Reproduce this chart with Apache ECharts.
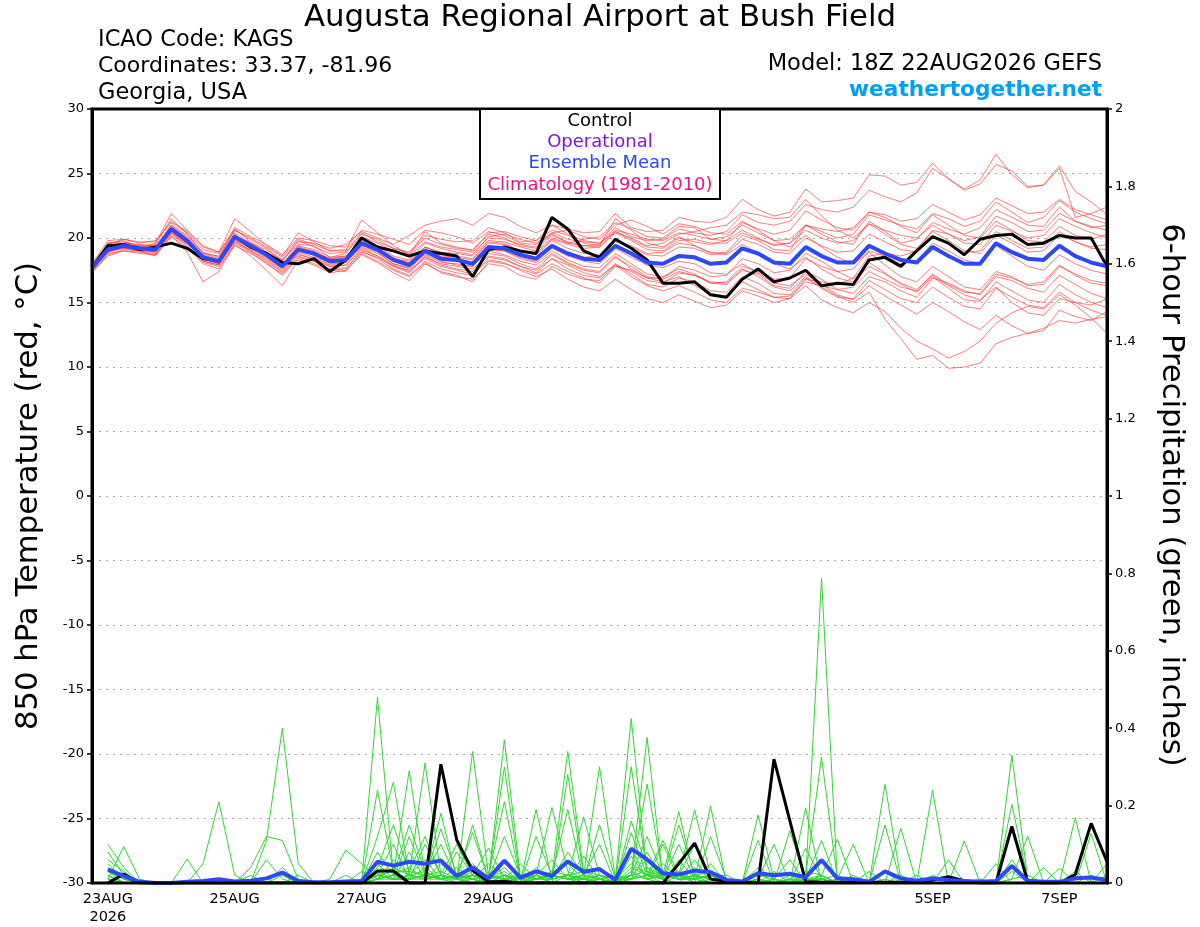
<!DOCTYPE html>
<html>
<head>
<meta charset="utf-8">
<script src="https://cdn.jsdelivr.net/npm/echarts@6/dist/echarts.min.js"></script>
<style>
html,body{margin:0;padding:0;background:#fff;}
#chart{width:1200px;height:927px;}
</style>
</head>
<body>
<div id="chart"></div>
<script>
// ---------------- DATA ----------------
// valid times: 22AUG 18Z then 23AUG..07SEP every 6 hours
const firstTime = '22AUG 18Z';
const days = ['23AUG','24AUG','25AUG','26AUG','27AUG','28AUG','29AUG','30AUG','31AUG','01SEP','02SEP','03SEP','04SEP','05SEP','06SEP','07SEP'];
const hours = ['00Z','06Z','12Z','18Z'];
const tickIndices = [1, 9, 17, 25, 37, 45, 53, 61];
const tickLabels = ['23AUG\n2026','25AUG','27AUG','29AUG','1SEP','3SEP','5SEP','7SEP'];

// 850 hPa temperature (C)
const controlTemp = [17.7,19.4,19.5,19.1,19.3,19.6,19.2,18.4, 18.2,20.1,19.3,18.8,18.1,18.0,18.4,17.4, 18.3,20.0,19.3,19.0,18.6,19.0,18.8,18.6, 17.0,19.1,19.3,19.0,18.8,21.6,20.7,19.0, 18.5,19.9,19.2,18.3,16.5,16.5,16.6,15.6, 15.4,16.8,17.6,16.6,16.9,17.5,16.3,16.5, 16.4,18.3,18.5,17.8,19.0,20.1,19.6,18.7, 19.9,20.2,20.3,19.5,19.6,20.2,20.0,20.0, 17.8];
const meanTemp = [17.7,19.1,19.4,19.2,19.1,20.7,19.8,18.5, 18.2,20.1,19.4,18.7,17.8,19.1,18.8,18.2, 18.3,19.6,19.1,18.3,17.9,19.0,18.4,18.3, 18.0,19.3,19.2,18.7,18.4,19.4,18.8,18.4, 18.3,19.4,18.8,18.1,18.0,18.6,18.5,18.0, 18.1,19.2,18.8,18.1,18.0,19.3,18.6,18.1, 18.1,19.4,18.8,18.3,18.1,19.3,18.6,18.0, 18.0,19.6,18.9,18.4,18.3,19.4,18.6,18.1, 17.8];

const tempMember01 = [17.9,19.6,19.7,19.4,19.5,21.5,20.3,18.8, 18.6,20.7,19.7,18.9,18.3,19.5,19.4,18.5, 18.8,20.4,19.7,19.2,18.9,20.2,19.9,19.7, 19.8,20.8,20.4,19.7,19.8,21.0,20.7,20.4, 20.5,21.9,20.8,20.5,20.6,21.6,21.3,21.2, 21.6,23.0,22.2,21.7,22.0,23.8,22.8,22.9, 23.1,24.9,24.8,24.1,24.3,25.8,24.6,23.8, 24.5,26.5,24.9,23.9,24.1,25.6,23.6,22.8, 21.8];
const tempMember02 = [17.5,18.9,19.2,19.0,18.8,20.4,19.5,18.2, 17.9,19.8,19.0,18.3,17.4,18.8,18.3,17.8, 17.9,19.2,18.6,17.8,17.3,18.6,17.9,17.6, 17.4,18.8,18.6,18.0,17.6,18.7,18.0,17.5, 17.3,18.5,17.8,17.0,16.8,17.4,17.1,16.6, 16.5,17.6,17.0,16.2,15.9,17.0,16.2,15.5, 15.0,15.8,13.7,12.2,10.6,10.9,9.9,10.0, 10.3,11.8,12.3,12.6,13.0,13.6,13.4,13.7, 13.9];
const tempMember03 = [17.8,19.0,19.5,19.3,19.0,20.5,19.6,18.7, 18.0,20.3,19.2,18.9,17.9,19.4,18.6,18.0, 18.1,19.4,18.9,18.0,17.6,18.8,18.2,17.9, 17.8,19.0,18.7,18.2,17.9,18.8,18.1,17.6, 17.4,18.6,17.6,16.9,16.6,17.0,16.3,15.7, 15.5,16.6,16.0,15.4,15.3,16.3,15.2,14.6, 14.2,15.0,14.3,13.0,12.0,11.4,10.7,11.2, 12.0,13.4,14.2,14.7,14.5,15.6,14.8,13.8, 12.6];
const tempMember04 = [17.6,19.3,19.6,19.5,19.4,21.0,20.2,18.9, 18.5,20.6,19.9,19.2,18.2,19.8,19.3,18.8, 18.9,20.1,19.6,19.0,18.6,19.7,19.3,19.1, 18.9,20.0,19.9,19.5,19.3,20.4,19.9,19.7, 19.6,20.8,20.1,19.8,19.9,20.7,20.4,20.2, 20.5,21.8,21.2,21.0,21.3,22.6,22.2,22.0, 22.4,23.7,23.2,22.8,23.5,25.4,24.6,23.7, 24.2,25.7,25.2,24.0,24.1,25.4,21.6,21.9, 22.4];
const tempMember05 = [18.0,19.8,19.9,19.6,19.8,21.2,20.4,19.1, 18.8,20.8,20.1,19.5,18.7,20.0,19.8,19.4, 19.3,20.6,20.3,19.9,19.5,20.6,20.4,20.1, 19.6,20.5,20.2,19.6,19.5,20.3,19.6,19.9, 20.1,21.2,20.7,20.1,20.0,20.9,20.8,19.9, 19.8,20.6,20.0,19.4,19.6,21.0,20.5,20.0, 20.3,21.8,21.4,21.0,20.7,21.9,21.5,20.9, 21.3,22.8,22.0,21.2,21.6,22.9,22.0,21.5, 21.1];
const tempMember06 = [17.4,18.8,19.0,18.9,18.7,20.3,19.3,18.0, 17.6,19.6,18.9,18.0,17.2,18.5,18.2,17.5, 17.6,19.0,18.4,17.6,17.1,18.2,17.6,17.3, 17.1,18.5,18.3,17.8,17.3,18.4,17.6,17.1, 16.9,18.0,17.2,16.4,16.2,16.9,16.6,15.9, 15.8,17.0,16.5,15.7,15.6,16.9,16.1,15.4, 15.3,16.7,16.0,15.3,15.0,16.2,15.4,14.7, 14.5,16.1,15.4,14.8,14.6,15.8,15.0,14.4, 14.0];
const tempMember07 = [17.9,19.4,19.6,19.3,19.2,21.0,20.1,18.8, 18.4,20.4,19.6,19.1,18.3,19.7,19.6,19.2, 19.5,20.5,20.0,19.5,20.2,21.0,21.3,21.5, 21.0,21.9,21.6,20.9,20.4,21.0,20.3,19.8, 19.6,20.5,19.9,19.3,19.2,20.0,19.7,19.5, 19.8,21.2,20.7,20.3,20.6,22.1,21.4,20.8, 20.6,22.0,21.6,20.9,20.4,21.8,21.0,20.2, 20.0,21.3,20.6,19.8,19.7,20.9,20.2,19.9, 20.3];
const tempMember08 = [17.3,18.7,19.1,19.0,18.6,20.2,18.9,16.6, 17.4,19.5,18.6,17.5,16.3,18.3,17.9,17.3, 17.5,18.7,18.1,17.3,16.7,18.0,17.4,17.1, 16.6,18.2,18.0,17.6,17.2,18.0,17.4,16.9, 16.5,17.8,17.5,16.9,16.9,17.8,17.5,17.0, 17.1,18.4,18.0,17.3,17.5,18.8,18.2,17.4, 16.8,18.1,17.3,16.4,15.8,17.0,16.1,15.2, 15.1,16.6,15.9,15.2,15.0,16.4,15.6,15.0, 14.6];
const tempMember09 = [17.6,19.6,19.8,19.2,19.6,21.9,20.6,19.4, 18.9,21.5,20.5,19.4,18.6,20.4,19.7,19.0, 19.0,21.4,20.4,19.4,18.7,20.5,19.6,19.3, 19.0,20.4,20.5,20.1,19.8,20.6,20.2,19.6, 19.4,21.5,20.6,19.6,19.3,20.1,19.4,18.8, 18.9,20.2,19.8,19.1,19.0,21.0,20.3,19.7, 19.5,21.3,20.5,19.6,19.9,21.2,20.7,20.3, 20.8,22.2,21.6,21.0,20.9,22.4,21.3,20.9, 20.6];
const tempMember10 = [17.5,19.0,19.3,19.1,18.9,20.6,19.7,18.3, 18.0,19.9,19.2,18.5,17.6,18.9,18.5,17.9, 18.1,19.3,18.8,18.0,17.7,18.7,18.1,18.0, 17.8,19.1,19.0,18.4,18.1,19.0,18.3,17.8, 17.7,18.8,18.0,17.2,17.0,17.6,17.2,16.5, 16.6,17.8,17.4,16.8,16.9,18.4,17.8,17.4, 17.6,19.0,18.6,18.0,18.2,19.6,19.0,18.3, 18.0,19.4,18.6,17.8,17.5,18.7,18.0,17.5, 17.2];
const tempMember11 = [17.8,19.2,19.4,19.3,19.2,20.8,19.9,18.6, 18.3,20.0,19.5,18.8,17.9,19.2,18.9,18.4, 18.5,19.8,19.4,18.6,18.3,19.6,19.2,18.9, 18.7,20.1,20.3,19.9,19.6,20.4,20.6,20.1, 19.9,21.0,21.4,20.9,20.3,21.1,20.9,20.4, 20.3,21.3,20.6,19.8,19.3,20.2,19.3,18.5, 18.0,18.9,17.9,17.0,16.6,17.8,17.0,16.2, 16.0,17.4,17.0,16.3,16.4,17.8,17.2,16.7, 16.5];
const tempMember12 = [17.7,18.9,19.3,19.0,19.0,20.5,19.6,18.4, 18.1,19.8,19.1,18.4,17.5,18.7,18.4,17.8, 17.9,19.1,18.6,17.9,17.4,18.4,17.8,17.5, 17.2,18.3,18.1,17.5,17.0,17.6,16.8,16.2, 15.9,16.8,16.0,15.3,15.0,15.6,15.1,14.6, 14.8,15.9,15.5,15.0,15.3,16.8,16.6,16.4, 16.9,18.6,18.8,18.6,19.0,20.6,20.3,19.8, 20.1,21.7,21.2,20.5,20.6,21.9,21.3,20.8, 21.0];
const tempMember13 = [17.6,19.1,19.5,19.3,19.0,20.9,20.0,18.6, 18.2,20.2,19.5,18.7,17.8,19.3,19.0,18.3, 18.4,19.9,19.3,18.5,18.0,19.2,18.6,18.5, 18.3,19.7,19.6,19.0,18.8,19.9,19.5,19.2, 19.3,20.5,20.0,19.4,19.6,20.3,20.5,20.8, 21.0,22.0,21.8,21.5,21.6,23.0,21.7,20.6, 20.0,21.1,20.3,19.5,19.2,20.5,19.8,19.0, 18.8,20.2,19.6,18.9,19.0,20.3,19.7,19.3, 19.5];
const tempMember14 = [17.4,18.6,19.0,18.8,18.7,20.1,19.2,18.1, 17.8,19.4,18.8,18.1,17.1,18.4,18.0,17.5, 17.4,18.8,18.2,17.5,17.0,18.1,17.3,17.0, 16.8,18.0,17.8,17.1,16.8,17.8,17.2,16.8, 16.7,17.9,17.4,16.7,16.5,17.3,17.1,16.5, 16.4,17.5,17.2,16.3,16.1,17.4,16.8,16.0, 15.7,17.0,16.6,15.9,15.4,16.9,16.5,15.9, 15.6,17.0,16.7,16.1,15.8,17.1,16.4,15.7, 15.3];
const tempMember15 = [17.9,19.5,19.9,19.7,19.7,21.3,20.5,19.3, 18.9,20.6,20.0,19.3,18.5,19.9,19.5,19.0, 19.1,20.3,19.9,19.2,18.8,20.0,19.5,19.2, 19.1,20.3,20.0,19.4,19.2,20.2,19.7,19.4, 19.3,20.4,19.8,19.1,19.0,19.8,19.9,19.6, 19.6,20.4,19.9,19.5,19.6,20.6,20.0,19.6, 19.8,21.1,20.6,20.2,20.0,21.0,20.3,19.6, 19.5,21.0,20.5,20.0,20.2,21.5,20.9,20.4, 20.0];
const tempMember16 = [17.5,19.2,19.3,19.1,19.0,20.5,19.6,18.4, 18.0,20.0,19.3,18.6,17.7,19.0,18.7,18.1, 18.2,19.5,19.0,18.2,17.8,18.9,18.3,18.2, 17.9,19.2,19.0,18.5,18.2,19.2,18.6,18.2, 18.0,19.2,18.5,17.9,17.7,18.2,18.0,17.3, 17.2,18.0,17.3,16.5,16.3,17.2,16.4,15.6, 15.2,16.3,15.5,14.8,14.1,15.0,14.3,13.5, 12.9,14.0,13.2,12.6,12.8,14.4,13.9,13.6, 14.3];
const tempMember17 = [17.8,19.3,19.5,19.4,19.3,20.8,19.9,18.7, 18.3,20.2,19.6,18.9,18.0,19.4,19.1,18.5, 18.6,19.7,19.2,18.4,18.1,19.3,18.8,18.6, 18.4,19.6,19.5,19.0,18.7,19.8,19.2,18.8, 18.7,19.9,19.3,18.7,18.6,19.3,19.2,18.7, 18.8,19.9,19.5,18.9,18.8,20.0,19.4,18.9, 19.0,20.3,19.7,19.1,18.9,20.2,19.5,18.9, 19.0,20.5,19.8,19.2,19.3,20.5,19.7,19.2, 19.1];
const tempMember18 = [17.6,19.0,19.2,19.1,18.9,20.4,19.4,18.2, 17.9,19.7,19.0,18.2,17.3,18.6,18.2,17.6, 17.7,18.9,18.5,17.8,17.5,18.5,18.0,17.8, 17.6,18.6,18.4,17.8,17.5,18.4,17.9,17.3, 17.0,17.9,17.0,16.3,15.9,16.3,15.8,15.2, 15.0,16.1,15.8,15.4,15.5,16.6,16.3,16.0, 16.2,17.4,16.8,16.2,15.9,17.2,16.4,15.8, 15.7,17.2,16.9,16.4,16.6,17.9,17.1,16.5, 16.3];
const tempMember19 = [17.7,19.1,19.4,19.2,19.2,20.6,19.8,18.6, 18.2,20.1,19.3,18.7,17.9,19.0,18.9,18.4, 18.6,19.6,19.0,18.4,18.2,19.3,18.9,18.8, 18.6,19.8,19.7,19.3,19.0,20.0,19.6,19.4, 19.5,20.6,20.3,19.9,19.8,20.4,20.2,19.9, 20.1,21.0,20.4,19.8,19.9,21.0,20.7,20.5, 20.8,22.0,21.8,21.3,21.5,22.6,22.0,21.4, 21.8,23.1,22.5,21.9,22.0,23.0,22.2,21.8, 21.4];
const tempMember20 = [17.8,19.3,19.4,19.2,19.1,20.6,19.7,18.5, 18.1,20.0,19.3,18.7,17.9,19.1,18.7,18.1, 18.3,19.5,19.0,18.3,17.9,18.9,18.4,18.3, 18.1,19.4,19.1,18.6,18.3,19.3,18.7,18.5, 18.6,19.7,19.4,18.8,18.9,19.6,19.4,18.9, 18.7,19.5,18.8,18.0,17.6,18.5,17.6,16.9, 16.6,17.8,17.2,16.5,16.0,17.1,16.3,15.6, 15.2,16.2,15.0,14.2,14.0,15.3,15.0,14.8, 15.3];

// 6-hour precipitation (inches); first valid time has no accumulation
const controlPrecip = [null,0,0.023,0,0,0,0,0, 0,0,0,0,0,0,0,0, 0,0,0.031,0.031,0,0,0.307,0.111, 0.032,0.003,0.004,0,0,0,0,0, 0,0,0,0,0,0.05,0.103,0.01, 0.005,0.002,0,0.32,0.161,0.003,0.002,0.002, 0.002,0.002,0.002,0.002,0.002,0.008,0.016,0.006, 0,0,0.146,0.003,0,0,0.022,0.154, 0.055];
const meanPrecip = [null,0.035,0.018,0.003,0,0,0.003,0.005, 0.01,0.004,0.006,0.012,0.027,0.005,0.002,0.002, 0.004,0.005,0.055,0.045,0.055,0.05,0.058,0.018, 0.04,0.012,0.058,0.014,0.03,0.018,0.056,0.029, 0.036,0.008,0.089,0.061,0.025,0.022,0.032,0.028, 0.008,0.004,0.025,0.02,0.024,0.015,0.059,0.012, 0.01,0.003,0.03,0.012,0.006,0.012,0.008,0.005, 0.003,0.005,0.044,0.006,0.003,0.003,0.012,0.014, 0.008];

const precipMember01 = [null,0.10,0.04,0,0,0,0,0, 0,0,0,0,0,0,0,0, 0,0,0.48,0.02,0.15,0.03,0.01,0.02, 0.01,0,0.02,0,0.19,0.01,0.02,0, 0.01,0,0.30,0.03,0.02,0.184,0.01,0, 0,0,0,0.03,0,0,0.01,0, 0,0,0,0.141,0,0,0,0, 0,0,0,0,0,0,0,0.02, 0];
const precipMember02 = [null,0.08,0.02,0,0,0,0,0, 0,0,0,0.06,0.01,0,0,0, 0,0,0.24,0.03,0.03,0.12,0.02,0.01, 0.03,0,0.01,0,0.12,0.02,0.01,0.01, 0.02,0,0.16,0.04,0.01,0.15,0.02,0.01, 0,0,0.01,0,0.135,0.01,0,0, 0,0,0,0.02,0,0,0,0, 0,0,0,0,0,0,0,0, 0.05];
const precipMember03 = [null,0.06,0.03,0,0,0,0,0, 0,0,0,0,0,0,0,0, 0,0,0.12,0.26,0.02,0.03,0.01,0, 0.02,0.01,0.04,0,0.02,0.195,0.03,0.01, 0,0,0.13,0.02,0.01,0.10,0.01,0, 0,0,0,0.01,0.06,0,0.01,0, 0,0,0.01,0,0.02,0,0,0, 0,0,0,0,0,0,0,0, 0.02];
const precipMember04 = [null,0.05,0.01,0,0,0,0,0, 0,0,0,0,0.04,0,0,0, 0,0,0.08,0.02,0.29,0.02,0.03,0.01, 0,0.02,0.01,0,0.04,0.01,0.02,0, 0.02,0,0.09,0.01,0,0.06,0.01,0.02, 0,0,0,0,0.02,0,0.01,0, 0,0,0,0,0,0.24,0,0, 0,0,0,0,0,0,0,0, 0];
const precipMember05 = [null,0.04,0.01,0,0,0,0,0, 0,0,0.02,0,0,0,0,0, 0,0,0.05,0.01,0.02,0.31,0.02,0, 0.01,0,0.02,0.01,0.02,0.06,0.01,0, 0.01,0,0.07,0.01,0.02,0.03,0,0.01, 0,0,0,0,0,0.193,0,0.01, 0,0,0,0,0,0.02,0,0, 0,0,0,0,0,0,0,0, 0];
const precipMember06 = [null,0.03,0,0,0,0,0,0, 0,0,0,0,0.02,0,0,0, 0,0,0.04,0.15,0.03,0.02,0.18,0.01, 0,0.01,0.03,0,0.01,0.03,0.02,0.01, 0,0.01,0.05,0.02,0,0.02,0.189,0.02, 0,0,0.01,0,0,0.09,0.01,0, 0,0,0,0,0,0,0.06,0, 0,0,0,0,0,0,0,0, 0];
const precipMember07 = [null,0.03,0.01,0,0,0,0,0, 0,0,0,0,0,0.02,0,0, 0,0,0.02,0.10,0.01,0.02,0.14,0.02, 0.01,0,0.02,0,0.01,0.02,0.34,0.03, 0.01,0,0.04,0.02,0.01,0.02,0.10,0.01, 0,0,0,0,0,0.03,0.02,0, 0,0,0,0,0,0,0,0.109, 0,0,0,0,0,0,0,0, 0];
const precipMember08 = [null,0.02,0,0,0,0,0,0, 0,0,0,0,0,0,0,0, 0,0.03,0.01,0.06,0.02,0.01,0.02,0.10, 0.02,0,0.01,0.01,0.02,0,0.28,0.02, 0.01,0,0.03,0.01,0.02,0.01,0.06,0, 0,0,0,0,0,0.01,0.787,0.01, 0,0,0,0,0,0,0,0, 0.01,0,0,0,0,0,0,0, 0];
const precipMember09 = [null,0.02,0,0,0,0,0,0, 0,0,0,0,0,0,0,0, 0,0,0.03,0.01,0.12,0.02,0.01,0.08, 0.02,0.01,0.02,0,0.01,0.02,0.19,0.01, 0.02,0.01,0.02,0.376,0.01,0,0.04,0.01, 0,0,0.01,0,0,0.02,0.325,0.01, 0,0,0,0,0,0,0,0, 0,0.05,0,0,0,0,0,0, 0];
const precipMember10 = [null,0.01,0.094,0.01,0,0,0,0, 0,0,0,0,0,0,0,0, 0,0,0.02,0.01,0.08,0.01,0.02,0.01, 0.34,0.02,0.01,0,0.02,0.01,0.08,0.02, 0.01,0,0.02,0.256,0.02,0.01,0.02,0, 0,0,0,0,0,0.01,0.11,0, 0,0,0,0,0,0,0,0, 0,0,0.33,0.01,0,0,0,0, 0];
const precipMember11 = [null,0,0,0,0,0,0.062,0, 0,0,0,0,0,0,0,0, 0,0,0.02,0.01,0.01,0.10,0.02,0.01, 0.15,0.01,0.02,0,0.01,0.02,0.05,0.01, 0,0.01,0.02,0.12,0.02,0.01,0.01,0.199, 0,0,0.01,0,0,0,0.02,0, 0,0,0,0,0,0,0,0, 0,0,0.203,0.01,0,0,0,0, 0];
const precipMember12 = [null,0.01,0,0,0,0,0,0.05, 0.21,0.02,0,0,0,0,0,0, 0,0,0.01,0.04,0.02,0.06,0.01,0.02, 0.13,0.01,0.02,0.01,0.02,0,0.02,0.17, 0.02,0,0.01,0.08,0.01,0.02,0,0.12, 0.01,0,0,0.01,0,0,0.02,0, 0,0,0,0,0,0,0,0, 0,0,0.06,0,0,0,0,0, 0];
const precipMember13 = [null,0.01,0,0,0,0,0,0, 0,0,0.04,0.12,0.11,0.01,0,0, 0,0,0.02,0.03,0.01,0.02,0.10,0.01, 0.02,0.09,0.01,0.02,0.01,0.02,0.01,0.07, 0.01,0,0.02,0.06,0.01,0.02,0.01,0.05, 0,0,0.02,0.01,0,0.01,0.02,0.113, 0,0,0,0,0,0,0,0, 0,0,0.03,0,0,0,0,0, 0];
const precipMember14 = [null,0.02,0,0,0,0,0,0, 0,0,0,0.11,0.40,0.05,0,0, 0,0,0.01,0.02,0.04,0.01,0.02,0.01, 0.01,0.05,0.02,0.01,0,0.01,0.02,0.03, 0.02,0.01,0.01,0.04,0.02,0.01,0.02,0.03, 0,0,0.01,0,0.01,0,0.01,0.02, 0,0,0,0,0,0,0,0, 0,0,0.01,0.121,0,0,0,0, 0];
const precipMember15 = [null,0.01,0,0,0,0,0,0, 0,0,0,0,0,0,0,0.01, 0.085,0.05,0.01,0.02,0.01,0.04,0.01,0.02, 0.02,0.01,0.37,0.02,0.01,0.02,0.01,0.02, 0.30,0.01,0.02,0.03,0.01,0.02,0.01,0.02, 0.02,0,0.01,0,0.01,0.01,0,0.01, 0.10,0,0,0,0,0,0,0, 0,0,0.01,0.02,0,0,0,0, 0];
const precipMember16 = [null,0,0,0,0,0,0,0, 0,0,0,0,0,0,0,0, 0.02,0,0.02,0.01,0.02,0.01,0.05,0.01, 0.02,0.01,0.30,0.01,0.02,0.01,0.02,0.01, 0.15,0.01,0.01,0.02,0.11,0.02,0.01,0.02, 0,0,0.176,0.01,0,0.01,0.01,0, 0.02,0,0,0,0,0,0,0, 0,0,0,0,0.04,0,0,0, 0];
const precipMember17 = [null,0,0,0,0,0,0,0, 0,0,0,0,0,0,0,0, 0,0.01,0.02,0.01,0.01,0.02,0.01,0.04, 0.01,0.02,0.21,0.01,0.01,0.02,0.01,0.02, 0.10,0,0.02,0.01,0.10,0.01,0.02,0.01, 0,0,0.11,0,0.01,0,0.01,0, 0,0.03,0,0,0,0,0,0, 0,0,0,0,0,0.038,0,0, 0];
const precipMember18 = [null,0,0,0,0,0,0,0, 0,0,0,0,0,0,0,0, 0,0,0.01,0.02,0.01,0.01,0.02,0.01, 0.05,0.01,0.12,0.02,0.01,0.01,0.02,0.01, 0.04,0,0.01,0.02,0.05,0.01,0.02,0.01, 0,0,0.04,0.01,0,0.01,0.01,0, 0,0,0.255,0.01,0,0,0,0, 0,0,0,0,0,0,0.169,0, 0];
const precipMember19 = [null,0,0,0,0,0,0,0, 0,0,0,0,0,0,0,0, 0,0,0.02,0.01,0.01,0.02,0.01,0.02, 0.01,0.02,0.01,0.05,0.01,0.02,0.01,0.01, 0.01,0.02,0.01,0.02,0.03,0.01,0.01,0.02, 0,0,0.03,0,0.01,0,0,0, 0,0,0.15,0,0,0,0,0, 0,0,0,0,0,0,0.03,0, 0];
const precipMember20 = [null,0,0,0,0,0,0,0, 0,0,0,0,0,0,0,0, 0,0,0.01,0.01,0.02,0.01,0.01,0.01, 0.02,0.01,0.06,0.02,0.01,0.01,0.02,0.01, 0.02,0.01,0.425,0.02,0.02,0.01,0.02,0.01, 0,0,0.01,0.10,0,0.01,0.01,0, 0,0,0.03,0,0,0,0,0, 0,0,0,0,0,0,0,0.128, 0];

const tempMembers = [tempMember01,tempMember02,tempMember03,tempMember04,tempMember05,tempMember06,tempMember07,tempMember08,tempMember09,tempMember10,tempMember11,tempMember12,tempMember13,tempMember14,tempMember15,tempMember16,tempMember17,tempMember18,tempMember19,tempMember20];
const precipMembers = [precipMember01,precipMember02,precipMember03,precipMember04,precipMember05,precipMember06,precipMember07,precipMember08,precipMember09,precipMember10,precipMember11,precipMember12,precipMember13,precipMember14,precipMember15,precipMember16,precipMember17,precipMember18,precipMember19,precipMember20];

// ---------------- CHART ----------------
const categories = [firstTime];
days.forEach(d => hours.forEach(h => categories.push(d + ' ' + h)));

const FONT = 'DejaVu Sans';
const F = (size, weight) => (weight ? weight + ' ' : '') + size + 'px "DejaVu Sans"';
const series = [];
tempMembers.forEach((arr, k) => series.push({
  name: 'tm' + k, type: 'line', data: arr, yAxisIndex: 0, symbol: 'none', silent: true,
  lineStyle: { color: 'rgba(255,45,45,0.62)', width: 1 }, z: 2
}));
precipMembers.forEach((arr, k) => series.push({
  name: 'pm' + k, type: 'line', data: arr, yAxisIndex: 1, symbol: 'none', silent: true,
  lineStyle: { color: '#2fd82f', width: 1 }, z: 3
}));
series.push({ name: 'Control T', type: 'line', data: controlTemp, yAxisIndex: 0, symbol: 'none', silent: true, lineStyle: { color: '#000', width: 3 }, z: 5 });
series.push({ name: 'Mean T', type: 'line', data: meanTemp, yAxisIndex: 0, symbol: 'none', silent: true, lineStyle: { color: '#2b48ff', width: 4 }, z: 6 });
series.push({ name: 'Control P', type: 'line', data: controlPrecip, yAxisIndex: 1, symbol: 'none', silent: true, lineStyle: { color: '#000', width: 3 }, z: 5 });
series.push({ name: 'Mean P', type: 'line', data: meanPrecip, yAxisIndex: 1, symbol: 'none', silent: true, lineStyle: { color: '#2b48ff', width: 4 }, z: 6 });

const chart = echarts.init(document.getElementById('chart'), null, { renderer: 'canvas' });
chart.setOption({
  animation: false,
  backgroundColor: '#fff',
  textStyle: { fontFamily: FONT },
  grid: { left: 92, right: 93, top: 109, bottom: 44, show: true, borderColor: '#000', borderWidth: 3, backgroundColor: 'transparent', z: 10 },
  xAxis: {
    type: 'category', data: categories, boundaryGap: false,
    axisLine: { show: false }, axisTick: { show: false }, splitLine: { show: false },
    axisLabel: {
      interval: (idx) => tickIndices.includes(idx),
      formatter: (val, idx) => { const p = tickIndices.indexOf(idx); return p >= 0 ? tickLabels[p] : ''; },
      color: '#000', fontSize: 14.5, fontFamily: FONT, margin: 7, lineHeight: 18
    }
  },
  yAxis: [
    {
      type: 'value', min: -30, max: 30, interval: 5, position: 'left',
      axisLine: { show: true, lineStyle: { color: '#000', width: 3 } },
      axisTick: { show: true, length: 5, lineStyle: { color: '#000', width: 1.5 } },
      axisLabel: { color: '#000', fontSize: 13, fontFamily: FONT, margin: 8 },
      splitLine: { show: true, lineStyle: { color: '#aaaaaa', width: 1, type: [2, 5] } }
    },
    {
      type: 'value', min: 0, max: 2, interval: 0.2, position: 'right', alignTicks: false,
      axisLine: { show: true, lineStyle: { color: '#000', width: 3 } },
      axisTick: { show: true, length: 5, lineStyle: { color: '#000', width: 1.5 } },
      axisLabel: { color: '#000', fontSize: 13, fontFamily: FONT, margin: 8 },
      splitLine: { show: false }
    }
  ],
  series: series,
  graphic: [
    { type: 'text', x: 600, y: 18, z: 20, style: { text: 'Augusta Regional Airport at Bush Field', fill: '#000', font: F(30.8), textAlign: 'center', textVerticalAlign: 'middle' } },
    { type: 'text', x: 98, y: 40, z: 20, style: { text: 'ICAO Code: KAGS', fill: '#000', font: F(22.5), textAlign: 'left', textVerticalAlign: 'middle' } },
    { type: 'text', x: 98, y: 66, z: 20, style: { text: 'Coordinates: 33.37, -81.96', fill: '#000', font: F(22), textAlign: 'left', textVerticalAlign: 'middle' } },
    { type: 'text', x: 98, y: 93, z: 20, style: { text: 'Georgia, USA', fill: '#000', font: F(22.5), textAlign: 'left', textVerticalAlign: 'middle' } },
    { type: 'text', x: 1102, y: 64, z: 20, style: { text: 'Model: 18Z 22AUG2026 GEFS', fill: '#000', font: F(22.5), textAlign: 'right', textVerticalAlign: 'middle' } },
    { type: 'text', x: 1102, y: 90, z: 20, style: { text: 'weathertogether.net', fill: '#00a0fa', font: F(21.7, 'bold'), textAlign: 'right', textVerticalAlign: 'middle' } },
    { type: 'rect', z: 30, shape: { x: 480, y: 109, width: 240, height: 90 }, style: { fill: '#fff', stroke: '#000', lineWidth: 2 } },
    { type: 'text', x: 600, y: 121, z: 31, style: { text: 'Control', fill: '#000', font: F(18), textAlign: 'center', textVerticalAlign: 'middle' } },
    { type: 'text', x: 600, y: 142, z: 31, style: { text: 'Operational', fill: '#8a10e0', font: F(18), textAlign: 'center', textVerticalAlign: 'middle' } },
    { type: 'text', x: 600, y: 163, z: 31, style: { text: 'Ensemble Mean', fill: '#2b48ff', font: F(18), textAlign: 'center', textVerticalAlign: 'middle' } },
    { type: 'text', x: 600, y: 185, z: 31, style: { text: 'Climatology (1981-2010)', fill: '#ec1484', font: F(18), textAlign: 'center', textVerticalAlign: 'middle' } },
    { type: 'text', x: 29, y: 496, rotation: Math.PI / 2, z: 20, style: { text: '850 hPa Temperature (red, °C)', fill: '#000', font: F(30.7), textAlign: 'center', textVerticalAlign: 'middle' } },
    { type: 'text', x: 1171, y: 495, rotation: -Math.PI / 2, z: 20, style: { text: '6-hour Precipitation (green, inches)', fill: '#000', font: F(30.7), textAlign: 'center', textVerticalAlign: 'middle' } }
  ]
});
</script>
</body>
</html>
